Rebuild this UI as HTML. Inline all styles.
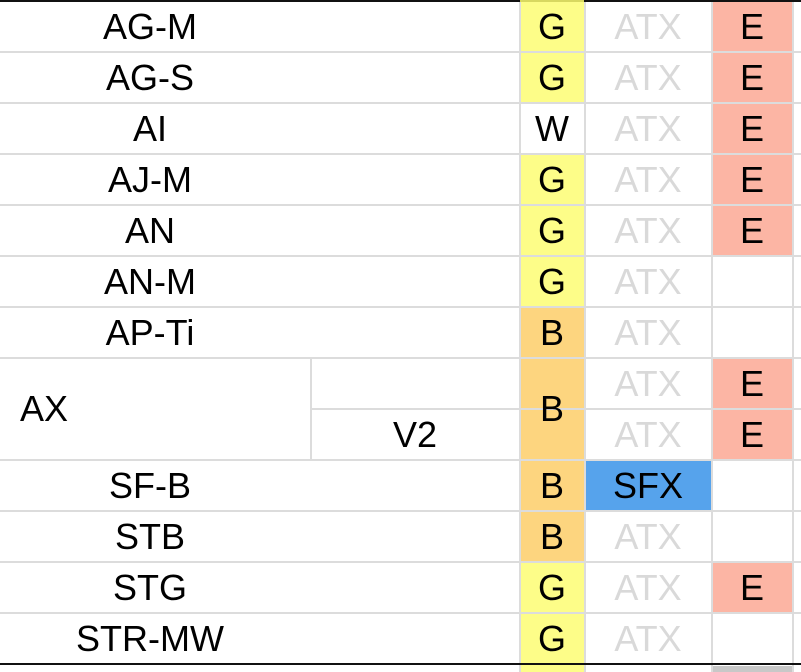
<!DOCTYPE html>
<html><head><style>
body{margin:0;width:801px;height:672px;overflow:hidden;background:#fff;position:relative;font-family:"Liberation Sans",sans-serif;}
div{position:absolute;box-sizing:border-box;}
.t{font-size:36px;color:#000;text-align:center;line-height:51px;height:51px;}
.hl{left:0;width:801px;height:2px;background:#dcdcdc;}
.vl{width:2px;background:#dcdcdc;}
.atx{color:#d9d9d9;}
</style></head><body>
<div style="left:520px;top:0;width:64px;height:255px;background:#fdfd88"></div>
<div style="left:520px;top:103px;width:64px;height:51px;background:#fff"></div>
<div style="left:520px;top:256px;width:64px;height:51px;background:#fdfd88"></div>
<div style="left:520px;top:307px;width:64px;height:255px;background:#fdd57f"></div>
<div style="left:520px;top:562px;width:64px;height:110px;background:#fdfd88"></div>
<div style="left:712px;top:0;width:80px;height:256px;background:#fcb5a4"></div>
<div style="left:712px;top:358px;width:80px;height:102px;background:#fcb5a4"></div>
<div style="left:712px;top:562px;width:80px;height:51px;background:#fcb5a4"></div>
<div style="left:584px;top:460px;width:128px;height:51px;background:#56a3ec"></div>
<div style="left:712px;top:666px;width:80px;height:6px;background:#c8c8c8"></div>
<div class="hl" style="top:51px"></div>
<div class="hl" style="top:102px"></div>
<div class="hl" style="top:153px"></div>
<div class="hl" style="top:204px"></div>
<div class="hl" style="top:255px"></div>
<div class="hl" style="top:306px"></div>
<div class="hl" style="top:357px"></div>
<div class="hl" style="top:408px;left:310px;width:491px"></div>
<div class="hl" style="top:459px"></div>
<div class="hl" style="top:510px"></div>
<div class="hl" style="top:561px"></div>
<div class="hl" style="top:612px"></div>
<div class="vl" style="left:310px;top:358px;height:102px"></div>
<div class="vl" style="left:519px;top:0;height:672px"></div>
<div class="vl" style="left:584px;top:0;height:672px"></div>
<div class="vl" style="left:711px;top:0;height:672px"></div>
<div class="vl" style="left:792px;top:0;height:672px"></div>
<div style="left:0;top:0;width:801px;height:2px;background:#111"></div>
<div style="left:0;top:663px;width:801px;height:2px;background:#111"></div>
<div style="left:520px;top:0;width:64px;height:2px;background:#d8d860"></div>
<div class="t" style="left:0;width:300px;top:1px">AG-M</div>
<div class="t" style="left:0;width:300px;top:52px">AG-S</div>
<div class="t" style="left:0;width:300px;top:103px">AI</div>
<div class="t" style="left:0;width:300px;top:154px">AJ-M</div>
<div class="t" style="left:0;width:300px;top:205px">AN</div>
<div class="t" style="left:0;width:300px;top:256px">AN-M</div>
<div class="t" style="left:0;width:300px;top:307px">AP-Ti</div>
<div class="t" style="left:20px;top:383px;text-align:left">AX</div>
<div class="t" style="left:310px;width:210px;top:409px">V2</div>
<div class="t" style="left:0;width:300px;top:460px">SF-B</div>
<div class="t" style="left:0;width:300px;top:511px">STB</div>
<div class="t" style="left:0;width:300px;top:562px">STG</div>
<div class="t" style="left:0;width:300px;top:613px">STR-MW</div>
<div class="t" style="left:520px;width:64px;top:1px">G</div>
<div class="t" style="left:520px;width:64px;top:52px">G</div>
<div class="t" style="left:520px;width:64px;top:103px">W</div>
<div class="t" style="left:520px;width:64px;top:154px">G</div>
<div class="t" style="left:520px;width:64px;top:205px">G</div>
<div class="t" style="left:520px;width:64px;top:256px">G</div>
<div class="t" style="left:520px;width:64px;top:307px">B</div>
<div class="t" style="left:520px;width:64px;top:383px">B</div>
<div class="t" style="left:520px;width:64px;top:460px">B</div>
<div class="t" style="left:520px;width:64px;top:511px">B</div>
<div class="t" style="left:520px;width:64px;top:562px">G</div>
<div class="t" style="left:520px;width:64px;top:613px">G</div>
<div class="t atx" style="left:584px;width:128px;top:1px">ATX</div>
<div class="t atx" style="left:584px;width:128px;top:52px">ATX</div>
<div class="t atx" style="left:584px;width:128px;top:103px">ATX</div>
<div class="t atx" style="left:584px;width:128px;top:154px">ATX</div>
<div class="t atx" style="left:584px;width:128px;top:205px">ATX</div>
<div class="t atx" style="left:584px;width:128px;top:256px">ATX</div>
<div class="t atx" style="left:584px;width:128px;top:307px">ATX</div>
<div class="t atx" style="left:584px;width:128px;top:358px">ATX</div>
<div class="t atx" style="left:584px;width:128px;top:409px">ATX</div>
<div class="t" style="left:584px;width:128px;top:460px">SFX</div>
<div class="t atx" style="left:584px;width:128px;top:511px">ATX</div>
<div class="t atx" style="left:584px;width:128px;top:562px">ATX</div>
<div class="t atx" style="left:584px;width:128px;top:613px">ATX</div>
<div class="t" style="left:712px;width:80px;top:1px">E</div>
<div class="t" style="left:712px;width:80px;top:52px">E</div>
<div class="t" style="left:712px;width:80px;top:103px">E</div>
<div class="t" style="left:712px;width:80px;top:154px">E</div>
<div class="t" style="left:712px;width:80px;top:205px">E</div>
<div class="t" style="left:712px;width:80px;top:358px">E</div>
<div class="t" style="left:712px;width:80px;top:409px">E</div>
<div class="t" style="left:712px;width:80px;top:562px">E</div>
</body></html>
